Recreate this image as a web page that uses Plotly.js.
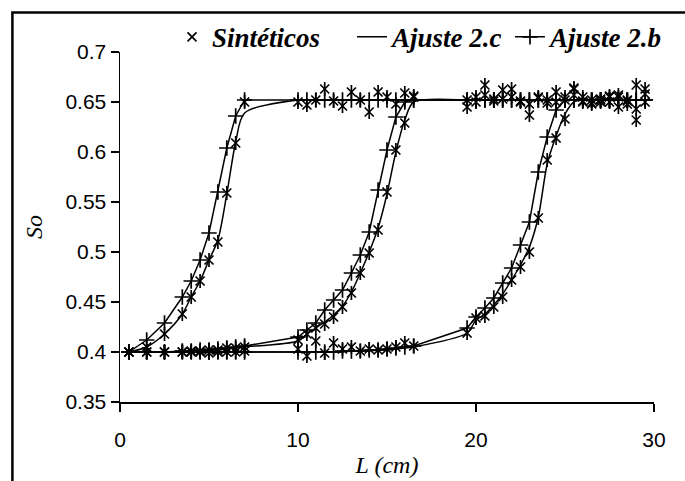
<!DOCTYPE html>
<html>
<head>
<meta charset="utf-8">
<script src="https://cdn.plot.ly/plotly-3.0.1.min.js"></script>
<style>
html,body{margin:0;padding:0;background:#fff;}
#chart{width:685px;height:481px;}
</style>
</head>
<body>
<div id="chart"></div>
<script>
// Positions along the sample, L (cm)
const L = [0.5,1.5,2.5,3.5,4,4.5,5,5.5,6,6.5,7,
  10,10.5,11,11.5,12,12.5,13,13.5,14,14.5,15,15.5,16,16.5,
  19.5,20,20.5,21,21.5,22,22.5,23,23.5,24,24.5,25,25.5,26,26.5,27,27.5,28,28.5,29,29.5];

// Synthetic data (Sintéticos), three fronts
const syn1 = [0.400,0.405,0.418,0.438,0.455,0.471,0.492,0.510,0.559,0.609,0.650,
  0.650,0.647,0.652,0.663,0.651,0.646,0.660,0.652,0.640,0.660,0.655,0.648,0.659,0.656,
  0.652,0.650,0.667,0.653,0.662,0.655,0.651,0.648,0.654,0.652,0.650,0.655,0.657,0.651,0.649,0.653,0.650,0.655,0.648,0.667,0.663];
const syn2 = [0.400,0.400,0.400,0.400,0.401,0.401,0.402,0.402,0.404,0.404,0.405,
  0.412,0.418,0.424,0.428,0.435,0.445,0.459,0.479,0.499,0.522,0.560,0.602,0.629,0.655,
  0.645,0.655,0.657,0.651,0.653,0.663,0.650,0.637,0.655,0.649,0.660,0.652,0.663,0.650,0.648,0.652,0.656,0.645,0.651,0.643,0.650];
const syn3 = [0.400,0.400,0.400,0.400,0.400,0.400,0.399,0.400,0.400,0.400,0.401,
  0.403,0.396,0.411,0.399,0.409,0.403,0.405,0.401,0.403,0.402,0.403,0.405,0.409,0.406,
  0.419,0.434,0.436,0.445,0.455,0.472,0.485,0.500,0.534,0.592,0.614,0.633,0.664,0.655,0.652,0.650,0.655,0.657,0.652,0.632,0.658];

// Ajuste 2.c (smooth line)
const fitC1 = [0.400,0.405,0.418,0.438,0.455,0.471,0.492,0.512,0.558,0.610,0.639,
  0.652,0.652,0.652,0.652,0.652,0.652,0.652,0.652,0.652,0.652,0.652,0.652,0.652,0.652,
  0.652,0.652,0.652,0.652,0.652,0.652,0.652,0.652,0.652,0.652,0.652,0.652,0.652,0.652,0.652,0.652,0.652,0.652,0.652,0.652,0.652];
const fitC2 = [0.400,0.400,0.400,0.400,0.401,0.401,0.402,0.402,0.403,0.404,0.405,
  0.411,0.418,0.424,0.430,0.437,0.446,0.460,0.479,0.500,0.524,0.558,0.600,0.632,0.650,
  0.652,0.652,0.652,0.652,0.652,0.652,0.652,0.652,0.652,0.652,0.652,0.652,0.652,0.652,0.652,0.652,0.652,0.652,0.652,0.652,0.652];
const fitC3 = [0.400,0.400,0.400,0.400,0.400,0.400,0.400,0.400,0.400,0.400,0.400,
  0.400,0.400,0.400,0.400,0.400,0.400,0.401,0.401,0.401,0.402,0.402,0.403,0.404,0.405,
  0.419,0.432,0.438,0.447,0.458,0.472,0.487,0.505,0.535,0.588,0.616,0.638,0.650,0.652,0.652,0.652,0.652,0.652,0.652,0.652,0.652];

// Ajuste 2.b (line with + markers)
const fitB1 = [0.400,0.412,0.429,0.455,0.471,0.492,0.519,0.560,0.604,0.636,0.652,
  0.652,0.652,0.652,0.652,0.652,0.652,0.652,0.652,0.652,0.652,0.652,0.652,0.652,0.652,
  0.652,0.652,0.652,0.652,0.652,0.652,0.652,0.652,0.652,0.652,0.652,0.652,0.652,0.652,0.652,0.652,0.652,0.652,0.652,0.652,0.652];
const fitB2 = [0.400,0.400,0.400,0.401,0.401,0.402,0.402,0.403,0.404,0.405,0.406,
  0.415,0.422,0.429,0.442,0.452,0.462,0.479,0.497,0.520,0.562,0.602,0.635,0.650,0.652,
  0.652,0.652,0.652,0.652,0.652,0.652,0.652,0.652,0.652,0.652,0.652,0.652,0.652,0.652,0.652,0.652,0.652,0.652,0.652,0.652,0.652];
const fitB3 = [0.400,0.400,0.400,0.400,0.400,0.400,0.400,0.400,0.400,0.400,0.400,
  0.400,0.400,0.400,0.400,0.400,0.401,0.401,0.401,0.402,0.402,0.403,0.404,0.405,0.406,
  0.424,0.435,0.444,0.454,0.469,0.484,0.507,0.530,0.580,0.615,0.642,0.652,0.652,0.652,0.652,0.652,0.652,0.652,0.652,0.652,0.652];

const names = ['Sintéticos','Ajuste 2.c','Ajuste 2.b'];
const synSets = [syn1, syn2, syn3];
const cSets = [fitC1, fitC2, fitC3];
const bSets = [fitB1, fitB2, fitB3];

const traces = [];
for (let i = 0; i < 3; i++) {
  traces.push({
    x: L, y: synSets[i], type: 'scatter', mode: 'markers',
    name: names[0], legendgroup: 'syn', showlegend: i === 0, legend: 'legend',
    marker: {symbol: 'x-thin-open', size: 9, color: '#000', line: {color: '#000', width: 1.7}},
    cliponaxis: false
  });
  traces.push({
    x: L, y: synSets[i], type: 'scatter', mode: 'markers',
    legendgroup: 'syn', showlegend: false, hoverinfo: 'skip',
    marker: {symbol: 'line-ns-open', size: 10, color: '#000', line: {color: '#000', width: 1.7}},
    cliponaxis: false
  });
  traces.push({
    x: L, y: cSets[i], type: 'scatter', mode: 'lines',
    name: names[1], legendgroup: 'c', showlegend: i === 0, legend: 'legend2',
    line: {color: '#000', width: 1.5, shape: 'spline', smoothing: 0.8}
  });
  traces.push({
    x: L, y: bSets[i], type: 'scatter', mode: 'lines+markers',
    name: names[2], legendgroup: 'b', showlegend: i === 0, legend: 'legend3',
    line: {color: '#000', width: 1.5},
    marker: {symbol: 'cross-thin-open', size: 11, color: '#000', line: {color: '#000', width: 1.7}},
    cliponaxis: false
  });
}

const legFont = {family: 'Liberation Serif, Times New Roman, serif', size: 27, color: '#000', weight: 'bold', style: 'italic'};
function leg(x) {
  return {orientation: 'h', x: x, xanchor: 'left', y: 1.042, yanchor: 'middle',
    font: legFont, bgcolor: 'rgba(0,0,0,0)', itemwidth: 30};
}

const layout = {
  width: 685, height: 481,
  margin: {l: 120, r: 31, t: 52, b: 79},
  paper_bgcolor: '#fff', plot_bgcolor: '#fff',
  showlegend: true,
  legend: leg(0.0974),
  legend2: leg(0.4345),
  legend3: leg(0.7303),
  xaxis: {
    range: [0, 30], tickvals: [0, 10, 20, 30], ticktext: ['0','10','20','30'],
    showgrid: false, zeroline: false, showline: true, linecolor: '#000', linewidth: 1.5,
    ticks: 'outside', ticklen: 8, tickwidth: 1.5, tickcolor: '#000', ticklabelstandoff: 10,
    tickfont: {family: 'Liberation Sans, Arial, sans-serif', size: 21, color: '#000'},
    title: {text: 'L (cm)', standoff: 6,
      font: {family: 'Liberation Serif, Times New Roman, serif', size: 24, color: '#000', style: 'italic'}},
    automargin: false
  },
  yaxis: {
    range: [0.35, 0.7], tickvals: [0.35,0.4,0.45,0.5,0.55,0.6,0.65,0.7],
    ticktext: ['0.35','0.4','0.45','0.5','0.55','0.6','0.65','0.7'],
    showgrid: false, zeroline: false, showline: true, linecolor: '#000', linewidth: 1.5,
    ticks: 'outside', ticklen: 8, tickwidth: 1.5, tickcolor: '#000',
    tickfont: {family: 'Liberation Sans, Arial, sans-serif', size: 21, color: '#000'},
    title: {text: 'So', standoff: 16,
      font: {family: 'Liberation Serif, Times New Roman, serif', size: 24, color: '#000', style: 'italic'}},
    automargin: false
  },
  shapes: [{
    type: 'rect', xref: 'paper', yref: 'paper',
    x0: -0.2015, x1: 1.1, y0: -0.3, y1: 1.1129,
    line: {color: '#000', width: 2.5}, fillcolor: 'rgba(0,0,0,0)', layer: 'above'
  }]
};

Plotly.newPlot('chart', traces, layout, {displayModeBar: false, staticPlot: true});
</script>
</body>
</html>
